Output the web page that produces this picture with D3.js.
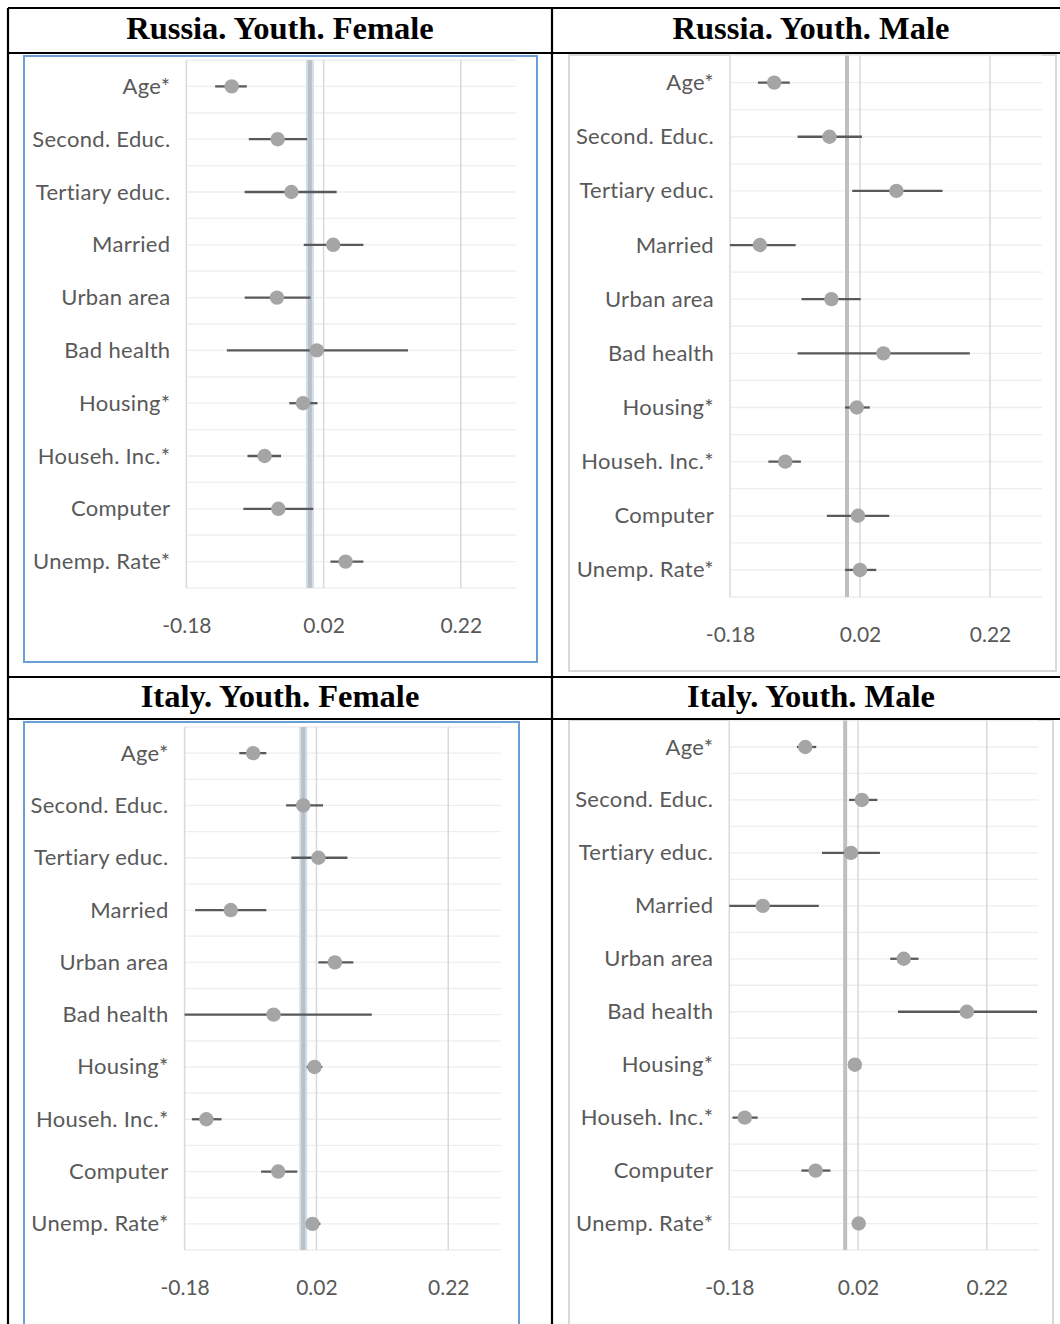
<!DOCTYPE html>
<html>
<head>
<meta charset="utf-8">
<script src="https://cdn.jsdelivr.net/npm/d3@7"></script>
<style>
  body { margin: 0; background: #fff; }
  svg { display: block; }
</style>
</head>
<body>
<div id="chart"></div>
<script>
// categories, top to bottom
const categories = ["Age*", "Second. Educ.", "Tertiary educ.", "Married", "Urban area",
                    "Bad health", "Housing*", "Househ. Inc.*", "Computer", "Unemp. Rate*"];
const xTicks = [-0.18, 0.02, 0.22];
const xDomain = [-0.18, 0.30];
const refValue = 0;

// Russia. Youth. Female
const ruFemEst  = [-0.114, -0.047, -0.027, 0.034, -0.048, 0.010, -0.010, -0.066, -0.046, 0.052];
const ruFemLow  = [-0.138, -0.089, -0.095, -0.009, -0.095, -0.121, -0.030, -0.091, -0.097, 0.030];
const ruFemHigh = [-0.092, -0.004, 0.039, 0.078, 0.001, 0.143, 0.011, -0.042, 0.005, 0.078];

// Russia. Youth. Male
const ruMalEst  = [-0.112, -0.027, 0.076, -0.134, -0.024, 0.056, 0.015, -0.095, 0.017, 0.020];
const ruMalLow  = [-0.137, -0.076, 0.008, -0.180, -0.070, -0.076, -0.003, -0.121, -0.031, -0.003];
const ruMalHigh = [-0.088, 0.023, 0.147, -0.079, 0.021, 0.189, 0.035, -0.071, 0.065, 0.045];

// Italy. Youth. Female
const itFemEst  = [-0.076, 0.000, 0.023, -0.110, 0.048, -0.045, 0.017, -0.147, -0.038, 0.014];
const itFemLow  = [-0.097, -0.026, -0.018, -0.164, 0.023, -0.180, 0.005, -0.169, -0.064, 0.004];
const itFemHigh = [-0.056, 0.030, 0.067, -0.056, 0.076, 0.104, 0.029, -0.124, -0.009, 0.026];

// Italy. Youth. Male
const itMalEst  = [-0.062, 0.026, 0.009, -0.128, 0.091, 0.189, 0.015, -0.156, -0.046, 0.021];
const itMalLow  = [-0.075, 0.006, -0.036, -0.180, 0.070, 0.082, 0.011, -0.175, -0.068, 0.017];
const itMalHigh = [-0.045, 0.050, 0.054, -0.041, 0.114, 0.298, 0.019, -0.136, -0.023, 0.025];

const width = 1060, height = 1324;

const svg = d3.select("#chart").append("svg")
    .attr("width", width)
    .attr("height", height);

svg.append("rect").attr("width", width).attr("height", height).attr("fill", "#fff");

// one panel per table cell
const panels = [
  { title: "Russia. Youth. Female", cx: 280, ty: 39, est: ruFemEst, low: ruFemLow, high: ruFemHigh,
    box: [24, 56, 513, 606], boxColor: "#6a9fd4", plot: [186.4, 515.7, 60, 588], glow: true },
  { title: "Russia. Youth. Male", cx: 811, ty: 39, est: ruMalEst, low: ruMalLow, high: ruMalHigh,
    box: [569, 55, 487, 616], boxColor: "#d9d9d9", plot: [730, 1042, 55.5, 597], glow: false },
  { title: "Italy. Youth. Female", cx: 280, ty: 707, est: itFemEst, low: itFemLow, high: itFemHigh,
    box: [24, 722, 495, 700], boxColor: "#6a9fd4", plot: [184.6, 501, 727, 1250], glow: true },
  { title: "Italy. Youth. Male", cx: 811, ty: 707, est: itMalEst, low: itMalLow, high: itMalHigh,
    box: [569, 720, 484, 700], boxColor: "#d9d9d9", plot: [729.3, 1038.3, 720.5, 1250], glow: false }
];

panels.forEach(drawPanel);

function drawPanel(p) {
    const g = svg.append("g");

    // chart frame
    g.append("rect")
        .attr("x", p.box[0]).attr("y", p.box[1])
        .attr("width", p.box[2]).attr("height", p.box[3])
        .attr("fill", "#fff")
        .attr("stroke", p.boxColor)
        .attr("stroke-width", 2);

    const x = d3.scaleLinear().domain(xDomain).range([p.plot[0], p.plot[1]]);
    const y = d3.scaleLinear().domain([0, categories.length]).range([p.plot[2], p.plot[3]]);

    // horizontal gridlines every half category
    g.append("g").selectAll("line")
        .data(d3.range(0, categories.length * 2 + 1).map(d => d / 2))
        .join("line")
        .attr("x1", x(xDomain[0])).attr("x2", x(xDomain[1]))
        .attr("y1", d => y(d)).attr("y2", d => y(d))
        .attr("stroke", "#eeeeee")
        .attr("stroke-width", 1.3);

    // vertical gridlines
    g.append("g").selectAll("line")
        .data(xTicks)
        .join("line")
        .attr("x1", d => x(d)).attr("x2", d => x(d))
        .attr("y1", y(0)).attr("y2", y(categories.length))
        .attr("stroke", "#d9d9d9")
        .attr("stroke-width", 1.5);

    // zero line (the left charts have it selected, hence the blue glow)
    if (p.glow) {
        g.append("line")
            .attr("x1", x(refValue)).attr("x2", x(refValue))
            .attr("y1", y(0)).attr("y2", y(categories.length))
            .attr("stroke", "#cde0f3")
            .attr("stroke-width", 8);
    }
    g.append("line")
        .attr("x1", x(refValue)).attr("x2", x(refValue))
        .attr("y1", y(0)).attr("y2", y(categories.length))
        .attr("stroke", "#bfbfbf")
        .attr("stroke-width", 4);

    const rows = categories.map((c, i) => ({ name: c, i: i, est: p.est[i], low: p.low[i], high: p.high[i] }));

    // error bars
    g.append("g").selectAll("line")
        .data(rows)
        .join("line")
        .attr("x1", d => x(d.low)).attr("x2", d => x(d.high))
        .attr("y1", d => y(d.i + 0.5)).attr("y2", d => y(d.i + 0.5))
        .attr("stroke", "#595959")
        .attr("stroke-width", 2.3);

    // point estimates
    g.append("g").selectAll("circle")
        .data(rows)
        .join("circle")
        .attr("cx", d => x(d.est))
        .attr("cy", d => y(d.i + 0.5))
        .attr("r", 7.2)
        .attr("fill", "#a5a5a5");

    // category labels
    const yAxis = d3.axisLeft(y)
        .tickValues(d3.range(categories.length).map(i => i + 0.5))
        .tickFormat((d, i) => categories[i])
        .tickSize(0)
        .tickPadding(16);
    const ya = g.append("g")
        .attr("transform", `translate(${x(xDomain[0])},0)`)
        .call(yAxis);
    ya.select(".domain").remove();
    ya.selectAll("text")
        .attr("font-family", "Lato, 'Open Sans', sans-serif")
        .attr("font-size", 22)
        .attr("letter-spacing", "0.3px")
        .attr("fill", "#595959");

    // value labels
    const xAxis = d3.axisBottom(x)
        .tickValues(xTicks)
        .tickFormat(d => d.toFixed(2))
        .tickSize(0)
        .tickPadding(30);
    const xa = g.append("g")
        .attr("transform", `translate(0,${y(categories.length)})`)
        .call(xAxis);
    xa.select(".domain").remove();
    xa.selectAll("text")
        .attr("font-family", "Lato, 'Open Sans', sans-serif")
        .attr("font-size", 21)
        .attr("fill", "#595959");

    // cell title
    svg.append("text")
        .attr("x", p.cx)
        .attr("y", p.ty)
        .attr("text-anchor", "middle")
        .attr("font-family", "'Liberation Serif', 'Times New Roman', serif")
        .attr("font-weight", "bold")
        .attr("font-size", 32.5)
        .attr("fill", "#000")
        .text(p.title);
}

// table borders
const tableLines = [
    [8, 8, 1070, 8], [8, 53, 1070, 53], [8, 677, 1070, 677], [8, 719, 1070, 719],
    [8, 8, 8, 1330], [552, 8, 552, 1330]
];
svg.append("g").selectAll("line")
    .data(tableLines)
    .join("line")
    .attr("x1", d => d[0]).attr("y1", d => d[1])
    .attr("x2", d => d[2]).attr("y2", d => d[3])
    .attr("stroke", "#000")
    .attr("stroke-width", 2.2);
</script>
</body>
</html>
